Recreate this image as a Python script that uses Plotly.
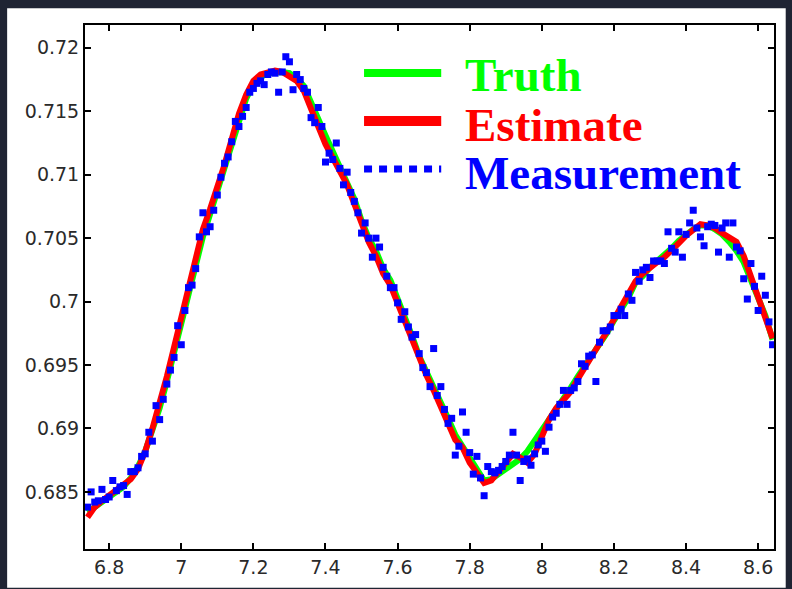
import plotly.graph_objects as go

# ---------------- data ----------------
x_model = [6.74, 6.76, 6.78, 6.80, 6.82, 6.84, 6.86, 6.88, 6.90, 6.92,
           6.94, 6.96, 6.98, 7.00, 7.02, 7.04, 7.06, 7.08, 7.10, 7.12,
           7.14, 7.16, 7.18, 7.20, 7.22, 7.24, 7.26, 7.28, 7.30, 7.32,
           7.34, 7.36, 7.38, 7.40, 7.42, 7.44, 7.46, 7.48, 7.50, 7.52,
           7.54, 7.56, 7.58, 7.60, 7.62, 7.64, 7.66, 7.68, 7.70, 7.72,
           7.74, 7.76, 7.78, 7.80, 7.82, 7.84, 7.86, 7.88, 7.90, 7.92,
           7.94, 7.96, 7.98, 8.00, 8.02, 8.04, 8.06, 8.08, 8.10, 8.12,
           8.14, 8.16, 8.18, 8.20, 8.22, 8.24, 8.26, 8.28, 8.30, 8.32,
           8.34, 8.36, 8.38, 8.40, 8.42, 8.44, 8.46, 8.48, 8.50, 8.52,
           8.54, 8.56, 8.58, 8.60, 8.62, 8.64]

truth = [0.6834, 0.6838, 0.6842, 0.6846, 0.6850, 0.6854, 0.6861, 0.6870, 0.6882, 0.6898,
         0.6916, 0.6937, 0.6960, 0.6983, 0.7007, 0.7031, 0.7051, 0.7069, 0.7087, 0.7105,
         0.7125, 0.7144, 0.7160, 0.7171, 0.7177, 0.7180, 0.7181, 0.7181, 0.7180, 0.7176,
         0.7170, 0.7158, 0.7144, 0.7131, 0.7119, 0.7106, 0.7095, 0.7081, 0.7064, 0.7050,
         0.7040, 0.7026, 0.7017, 0.7003, 0.6989, 0.6973, 0.6957, 0.6945, 0.6934, 0.6922,
         0.6908, 0.6895, 0.6886, 0.6876, 0.6867, 0.6859, 0.6860, 0.6864, 0.6868, 0.6871,
         0.6876, 0.6882, 0.6890, 0.6899, 0.6908, 0.6916, 0.6924, 0.6932, 0.6941, 0.6949,
         0.6957, 0.6965, 0.6975, 0.6985, 0.6994, 0.7003, 0.7015, 0.7020, 0.7027, 0.7032,
         0.7036, 0.7042, 0.7048, 0.7053, 0.7057, 0.7060, 0.7060, 0.7057, 0.7053, 0.7047,
         0.7040, 0.7031, 0.7016, 0.7001, 0.6989, 0.6970]

estimate = [0.6830, 0.6838, 0.6843, 0.6847, 0.6851, 0.6855, 0.6860, 0.6868, 0.6882, 0.6900,
            0.6919, 0.6941, 0.6964, 0.6988, 0.7012, 0.7036, 0.7057, 0.7073, 0.7090, 0.7108,
            0.7128, 0.7148, 0.7163, 0.7174, 0.7179, 0.7181, 0.7182, 0.7181, 0.7178, 0.7174,
            0.7166, 0.7153, 0.7138, 0.7124, 0.7114, 0.7103, 0.7092, 0.7077, 0.7061, 0.7047,
            0.7036, 0.7022, 0.7013, 0.6999, 0.6983, 0.6968, 0.6955, 0.6942, 0.6930, 0.6917,
            0.6903, 0.6891, 0.6885, 0.6873, 0.6865, 0.6857, 0.6859, 0.6866, 0.6874, 0.6880,
            0.6877, 0.6873, 0.6880, 0.6893, 0.6907, 0.6916, 0.6922, 0.6929, 0.6939, 0.6949,
            0.6958, 0.6967, 0.6976, 0.6986, 0.6995, 0.7005, 0.7016, 0.7022, 0.7027, 0.7031,
            0.7035, 0.7040, 0.7046, 0.7052, 0.7057, 0.7061, 0.7060, 0.7058, 0.7054, 0.7050,
            0.7047, 0.7036, 0.7020, 0.7004, 0.6990, 0.6971]

x_meas = [round(6.74 + 0.01 * i, 2) for i in range(191)]

measurement = [
    0.6838, 0.6850, 0.6842, 0.6843, 0.6852, 0.6844, 0.6846, 0.6859, 0.6851, 0.6854,  # 6.74-6.83
    0.6855, 0.6848, 0.6866, 0.6866, 0.6869, 0.6878, 0.6880, 0.6897, 0.6890, 0.6918,  # 6.84-6.93
    0.6907, 0.6923, 0.6935, 0.6946, 0.6956, 0.6981, 0.6966, 0.6993, 0.7011, 0.7013,  # 6.94-7.03
    0.7026, 0.7051, 0.7070, 0.7055, 0.7059, 0.7072, 0.7084, 0.7098, 0.7109, 0.7114,  # 7.04-7.13
    0.7126, 0.7142, 0.7138, 0.7146, 0.7153, 0.7165, 0.7168, 0.7172, 0.7174, 0.7171,  # 7.14-7.23
    0.7179, 0.7181, 0.7180, 0.7165, 0.7181, 0.7193, 0.7189, 0.7167, 0.7179, 0.7175,  # 7.24-7.33
    0.7168, 0.7165, 0.7145, 0.7141, 0.7153, 0.7138, 0.7110, 0.7117, 0.7112, 0.7125,  # 7.34-7.43
    0.7105, 0.7092, 0.7102, 0.7086, 0.7079, 0.7070, 0.7054, 0.7062, 0.7050, 0.7035,  # 7.44-7.53
    0.7050, 0.7043, 0.7027, 0.7020, 0.7011, 0.7011, 0.6999, 0.6986, 0.6992, 0.6980,  # 7.54-7.63
    0.6972, 0.6974, 0.6959, 0.6948, 0.6944, 0.6933, 0.6963, 0.6926, 0.6933, 0.6915,  # 7.64-7.73
    0.6904, 0.6908, 0.6879, 0.6886, 0.6913, 0.6897, 0.6881, 0.6864, 0.6878, 0.6861,  # 7.74-7.83
    0.6847, 0.6870, 0.6866, 0.6865, 0.6867, 0.6870, 0.6874, 0.6879, 0.6897, 0.6879,  # 7.84-7.93
    0.6859, 0.6874, 0.6876, 0.6871, 0.6880, 0.6887, 0.6890, 0.6882, 0.6901, 0.6909,  # 7.94-8.03
    0.6912, 0.6919, 0.6930, 0.6919, 0.6930, 0.6932, 0.6937, 0.6951, 0.6949, 0.6957,  # 8.04-8.13
    0.6958, 0.6937, 0.6968, 0.6977, 0.6977, 0.6980, 0.6989, 0.6989, 0.6994, 0.6989,  # 8.14-8.23
    0.7006, 0.7001, 0.7023, 0.7016, 0.7025, 0.7027, 0.7019, 0.7032, 0.7032, 0.7032,  # 8.24-8.33
    0.7030, 0.7055, 0.7042, 0.7039, 0.7055, 0.7035, 0.7053, 0.7062, 0.7072, 0.7058,  # 8.34-8.43
    0.7051, 0.7044, 0.7059, 0.7061, 0.7060, 0.7039, 0.7058, 0.7062, 0.7035, 0.7062,  # 8.44-8.53
    0.7043, 0.7040, 0.7018, 0.7002, 0.7030, 0.7012, 0.6993, 0.7020, 0.7005, 0.6984,  # 8.54-8.63
    0.6966,                                                                          # 8.64
]

x_ticks = [6.8, 7.0, 7.2, 7.4, 7.6, 7.8, 8.0, 8.2, 8.4, 8.6]
x_tick_labels = ["6.8", "7", "7.2", "7.4", "7.6", "7.8", "8", "8.2", "8.4", "8.6"]
y_ticks = [0.685, 0.69, 0.695, 0.70, 0.705, 0.71, 0.715, 0.72]
y_tick_labels = ["0.685", "0.69", "0.695", "0.7", "0.705", "0.71", "0.715", "0.72"]

legend_names = ["Truth", "Estimate", "Measurement"]

GREEN = "#00ff00"
RED = "#ff0000"
BLUE = "#0000ff"
DARK = "#1f2433"

# ---------------- figure ----------------
fig = go.Figure()

fig.add_trace(go.Scatter(x=x_model, y=truth, mode="lines", name=legend_names[0],
                         line=dict(color=GREEN, width=6), showlegend=False))
fig.add_trace(go.Scatter(x=x_model, y=estimate, mode="lines", name=legend_names[1],
                         line=dict(color=RED, width=6), showlegend=False))
fig.add_trace(go.Scatter(x=x_meas, y=measurement, mode="markers", name=legend_names[2],
                         marker=dict(color=BLUE, symbol="square", size=7, line=dict(width=0)),
                         showlegend=False))

# white panel behind the plot
fig.add_shape(type="rect", xref="paper", yref="paper",
              x0=-0.113, x1=1.017, y0=-0.074, y1=1.032,
              fillcolor="white", line=dict(width=0), layer="below")

# manual legend
legend_rows = [
    (legend_names[0], GREEN, 0.9084, 0.9046, "solid", 8),
    (legend_names[1], RED, 0.8168, 0.8092, "solid", 10),
    (legend_names[2], BLUE, 0.7252, 0.7176, "8px,7px", 7),
]
for name, col, ly, ty, dash, w in legend_rows:
    fig.add_shape(type="line", xref="paper", yref="paper",
                  x0=0.405, x1=0.517, y0=ly, y1=ly,
                  line=dict(color=col, width=w, dash=dash))
    fig.add_annotation(xref="paper", yref="paper", x=0.5486, y=ty,
                       xanchor="left", yanchor="middle", showarrow=False,
                       text="<b>%s</b>" % name,
                       font=dict(family="Liberation Serif, Times New Roman, serif",
                                 size=47, color=col))

axis_common = dict(
    showline=True, linecolor="black", linewidth=2, mirror="ticks",
    ticks="inside", ticklen=6, tickwidth=2, tickcolor="black",
    showgrid=False, zeroline=False,
    tickfont=dict(family="DejaVu Sans, Arial, sans-serif", size=19, color="#2a2a2a"),
)

fig.update_xaxes(range=[6.733, 8.644], tickvals=x_ticks, ticktext=x_tick_labels, **axis_common)
fig.update_yaxes(range=[0.6805, 0.7218], tickvals=y_ticks, ticktext=y_tick_labels, **axis_common)

fig.update_layout(
    width=792, height=589,
    margin=dict(l=85, r=18, t=25, b=40),
    paper_bgcolor=DARK,
    plot_bgcolor="white",
    showlegend=False,
)

fig.write_html(
    "out.html",
    config={"displayModeBar": False},
    post_script="document.body.style.margin='0';document.body.style.background='%s';" % DARK,
)
